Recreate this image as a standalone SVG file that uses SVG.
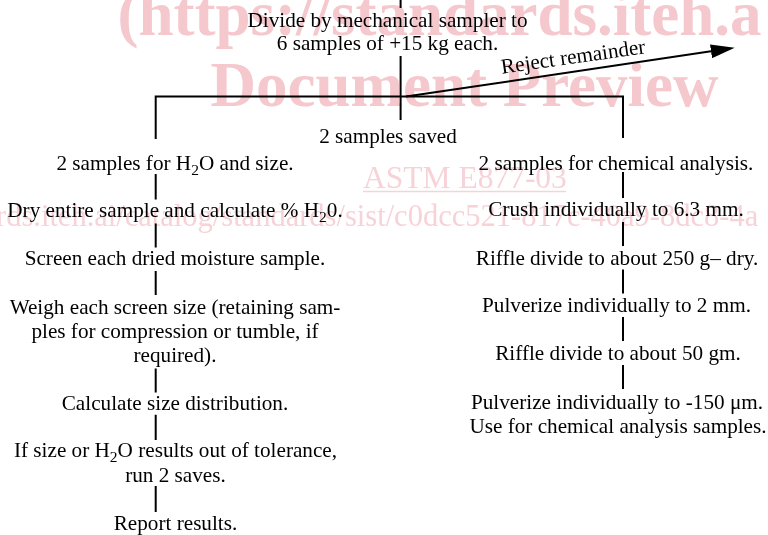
<svg xmlns="http://www.w3.org/2000/svg" width="768" height="535" viewBox="0 0 768 535">
<style>
.lbl{font-family:"Liberation Serif","Times New Roman",serif;font-size:21.2px;fill:#000;text-anchor:middle}
.c{stroke:#000;stroke-width:2;fill:none}
.wb{font-family:"Liberation Serif","Times New Roman",serif;font-size:63px;font-weight:bold;fill:#f5c8ce}
.wr{font-family:"Liberation Serif","Times New Roman",serif;font-size:31.5px;fill:#f7d3d8}
.sub{font-size:15.5px}
</style>
<defs>
<marker id="ah" viewBox="0 0 24 14" refX="0" refY="7" markerWidth="24" markerHeight="14" markerUnits="userSpaceOnUse" orient="auto"><path d="M0,0 L24,7 L0,14 z" fill="#000"/></marker>
</defs>
<rect width="768" height="535" fill="#fff"/>
<g id="n-divide">
<text class="lbl" x="387.5" y="27">Divide by mechanical sampler to</text>
<text class="lbl" x="387.5" y="50">6 samples of +15 kg each.</text>
</g>
<g id="n-saved"><text class="lbl" x="388" y="143">2 samples saved</text></g>
<g id="n-h2o"><text class="lbl" x="175" y="169.5">2 samples for H<tspan class="sub" dy="5">2</tspan><tspan dy="-5">O and size.</tspan></text></g>
<g id="n-dry"><text class="lbl" x="175" y="217">Dry entire sample and calculate % H<tspan class="sub" dy="5">2</tspan><tspan dy="-5">0.</tspan></text></g>
<g id="n-screen"><text class="lbl" x="175" y="265">Screen each dried moisture sample.</text></g>
<g id="n-weigh">
<text class="lbl" x="175" y="314">Weigh each screen size (retaining sam-</text>
<text class="lbl" x="175" y="338">ples for compression or tumble, if</text>
<text class="lbl" x="175" y="362">required).</text>
</g>
<g id="n-calc"><text class="lbl" x="175" y="409.5">Calculate size distribution.</text></g>
<g id="n-tol">
<text class="lbl" x="175.5" y="457">If size or H<tspan class="sub" dy="5">2</tspan><tspan dy="-5">O results out of tolerance,</tspan></text>
<text class="lbl" x="175.5" y="481.5">run 2 saves.</text>
</g>
<g id="n-report"><text class="lbl" x="175.5" y="530">Report results.</text></g>
<g id="n-chem"><text class="lbl" x="616" y="169.5">2 samples for chemical analysis.</text></g>
<g id="n-crush"><text class="lbl" x="616" y="216">Crush individually to 6.3 mm.</text></g>
<g id="n-riffle250"><text class="lbl" x="617" y="264.5">Riffle divide to about 250 g– dry.</text></g>
<g id="n-pulv2"><text class="lbl" x="616.5" y="312">Pulverize individually to 2 mm.</text></g>
<g id="n-riffle50"><text class="lbl" x="618" y="360">Riffle divide to about 50 gm.</text></g>
<g id="n-pulv150">
<text class="lbl" x="617" y="408.5">Pulverize individually to -150 μm.</text>
<text class="lbl" x="618" y="432.5">Use for chemical analysis samples.</text>
</g>
<g id="connectors">
<path class="c" d="M400.6,0 V8 M400.6,56 V120 M155.7,139 V96.6 H623 V138"/>
<path class="c" d="M155.7,174 V199.6 M155.7,223.5 V247.4 M155.7,271 V295 M155.7,368.6 V392.5 M155.7,414.7 V440 M155.7,486 V512"/>
<path class="c" d="M623,172 V198 M623,222 V246 M623,269.6 V293.5 M623,317 V341 M623,365 V389"/>
<line class="c" x1="406" y1="96.6" x2="711" y2="51.3" marker-end="url(#ah)"/>
<text class="lbl" transform="translate(574,63.5) rotate(-8.1)">Reject remainder</text>
</g>
<g id="watermark" style="mix-blend-mode:multiply">
<text class="wb" x="117.5" y="35">(https://standards.iteh.a</text>
<text class="wb" x="210.6" y="106">Document Preview</text>
<text class="wr" x="363" y="188">ASTM E877-03</text>
<line x1="363" y1="191.5" x2="566" y2="191.5" stroke="#f7d3d8" stroke-width="1.5"/>
<text class="wr" x="-4" y="226" style="font-size:30.5px">rds.iteh.ai/catalog/standards/sist/c0dcc521-817c-40a9-8dc8-4a</text>
</g>
</svg>
